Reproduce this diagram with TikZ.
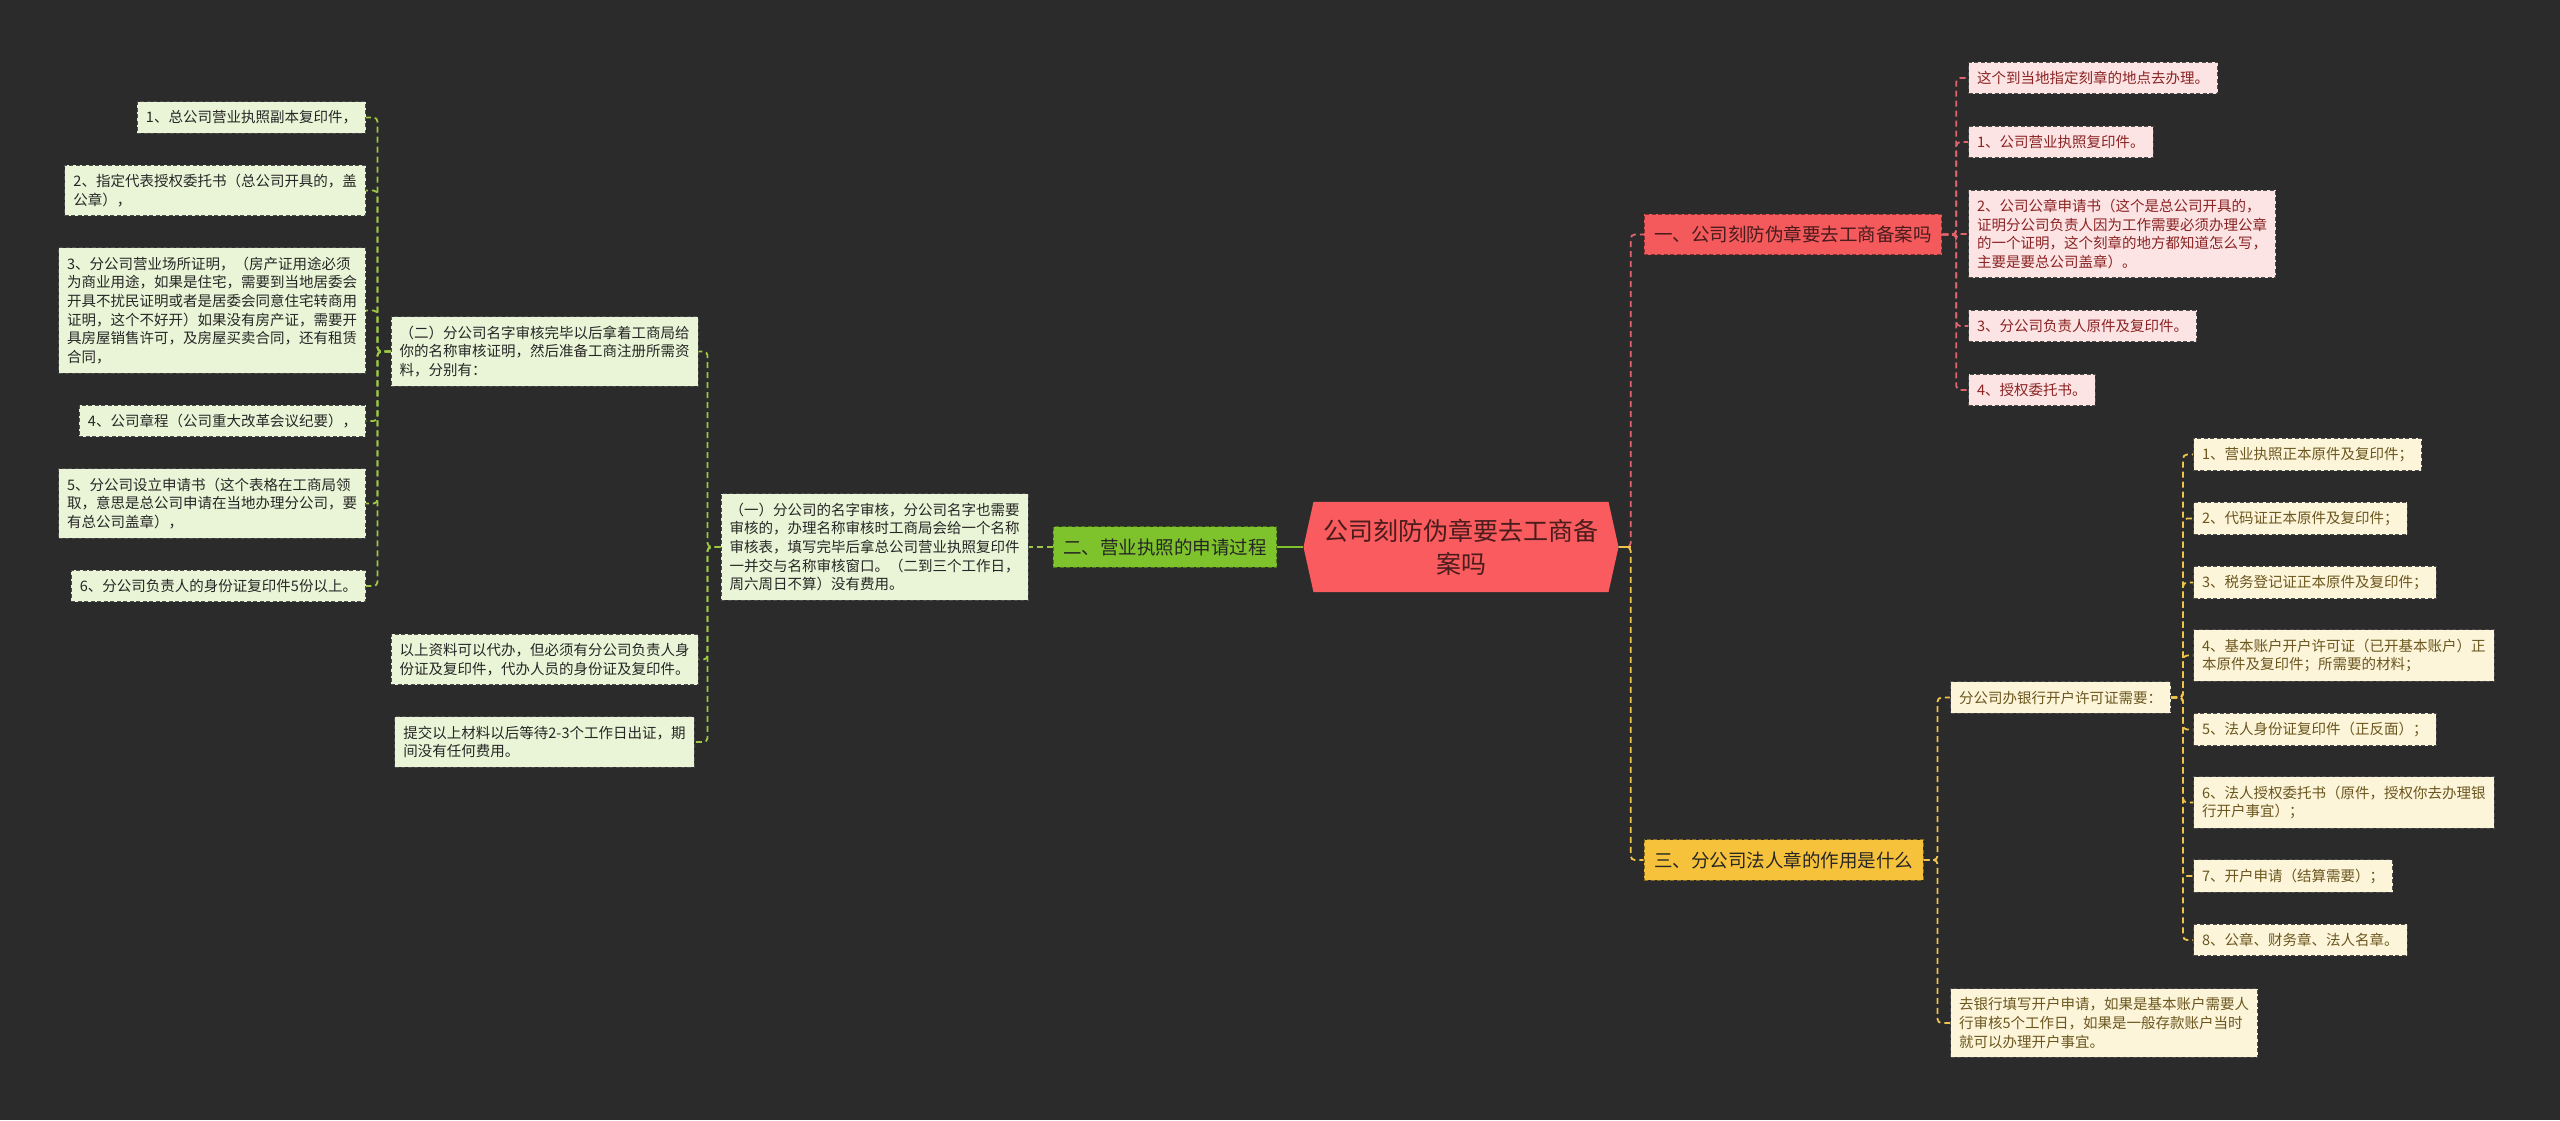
\documentclass[tikz,border=0pt]{standalone}
\usepackage{fontspec}
\setmainfont{Noto Sans CJK SC}
\usepackage{xcolor}
\usepackage{tikz}
\usetikzlibrary{positioning,shapes.symbols}
\definecolor{bgc}{HTML}{2B2B2B}
\definecolor{rootred}{HTML}{F95B5E}
\definecolor{roottxt}{HTML}{4A1C1C}
\definecolor{gmain}{HTML}{7EC22C}
\definecolor{gfill}{HTML}{EAF5D7}
\definecolor{glinec}{HTML}{9EC844}
\definecolor{rmain}{HTML}{F45A5C}
\definecolor{rfill}{HTML}{FDE4E4}
\definecolor{rtxt}{HTML}{8A2323}
\definecolor{rlinec}{HTML}{E0646E}
\definecolor{ymain}{HTML}{F7C23B}
\definecolor{yfill}{HTML}{FDF5DA}
\definecolor{ytxt}{HTML}{6B561E}
\definecolor{ylinec}{HTML}{EFC44A}
\tikzset{
  leaf/.style={rectangle, draw=black!70, dash pattern=on 4pt off 2.5pt, line width=1pt,
    align=left, font=\fontsize{14.5}{18.7}\selectfont, inner xsep=8.5pt, inner ysep=9pt},
  gleaf/.style={leaf, fill=gfill, text=black!85},
  rleaf/.style={leaf, fill=rfill, text=rtxt},
  yleaf/.style={leaf, fill=yfill, text=ytxt},
  branch/.style={rectangle, dash pattern=on 4pt off 2.5pt, line width=1pt,
    font=\fontsize{18.5}{22}\selectfont, inner xsep=10pt, inner ysep=11.5pt},
  root/.style={signal, signal to=west and east, signal pointer angle=155,
    fill=rootred, text=roottxt, align=center, font=\fontsize{25}{33}\selectfont,
    inner xsep=10pt, inner ysep=17pt},
  link/.style={line width=1.8pt, dash pattern=on 6pt off 4pt, rounded corners=4pt},
  gline/.style={link, draw=glinec},
  rline/.style={link, draw=rlinec},
  yline/.style={link, draw=ylinec},
}

\begin{document}
\begin{tikzpicture}[x=1pt, y=-1pt]
\useasboundingbox (0,0) rectangle (2560,1120);
\fill[bgc] (0,0) rectangle (2560,1120);
% Centre
\node[root] (root) at (1461,547) {公司刻防伪章要去工商备\\案吗};
% Left branch
\node[branch, fill=gmain, draw=gmain!60!black, text=black!85] (proc) at (1165,547) {二、营业执照的申请过程};
\node[gleaf] (name) at (874.5,547) {（一）分公司的名字审核，分公司名字也需要\\审核的，办理名称审核时工商局会给一个名称\\审核表，填写完毕后拿总公司营业执照复印件\\一并交与名称审核窗口。（二到三个工作日，\\周六周日不算）没有费用。};
\node[gleaf] (docs)  at (544.5,351.5) {（二）分公司名字审核完毕以后拿着工商局给\\你的名称审核证明，然后准备工商注册所需资\\料，分别有：};
\node[gleaf] (agent) at (544.5,659.5) {以上资料可以代办，但必须有分公司负责人身\\份证及复印件，代办人员的身份证及复印件。};
\node[gleaf] (wait)  at (544.5,742) {提交以上材料以后等待2-3个工作日出证，期\\间没有任何费用。};
\node[gleaf, anchor=east] (d1) at (366,117.5) {1、总公司营业执照副本复印件，};
\node[gleaf, anchor=east] (d2) at (366,190.5) {2、指定代表授权委托书（总公司开具的，盖\\公章），};
\node[gleaf, anchor=east] (d3) at (366,310.5) {3、分公司营业场所证明，（房产证用途必须\\为商业用途，如果是住宅，需要到当地居委会\\开具不扰民证明或者是居委会同意住宅转商用\\证明，这个不好开）如果没有房产证，需要开\\具房屋销售许可，及房屋买卖合同，还有租赁\\合同，};
\node[gleaf, anchor=east] (d4) at (366,421) {4、公司章程（公司重大改革会议纪要），};
\node[gleaf, anchor=east] (d5) at (366,503.5) {5、分公司设立申请书（这个表格在工商局领\\取，意思是总公司申请在当地办理分公司，要\\有总公司盖章），};
\node[gleaf, anchor=east] (d6) at (366,586) {6、分公司负责人的身份证复印件5份以上。};
% Right branch, seal
\node[branch, fill=rmain, draw=rmain!55!black, text=rmain!30!black] (seal) at (1793,234.5) {一、公司刻防伪章要去工商备案吗};
\node[rleaf, anchor=west] (s0) at (1968,78)  {这个到当地指定刻章的地点去办理。};
\node[rleaf, anchor=west] (s1) at (1968,142) {1、公司营业执照复印件。};
\node[rleaf, anchor=west] (s2) at (1968,234) {2、公司公章申请书（这个是总公司开具的，\\证明分公司负责人因为工作需要必须办理公章\\的一个证明，这个刻章的地方都知道怎么写，\\主要是要总公司盖章）。};
\node[rleaf, anchor=west] (s3) at (1968,326) {3、分公司负责人原件及复印件。};
\node[rleaf, anchor=west] (s4) at (1968,390) {4、授权委托书。};
% Right branch, legal seal
\node[branch, fill=ymain, draw=ymain!55!black, text=black!85] (legal) at (1783.5,860) {三、分公司法人章的作用是什么};
\node[yleaf, anchor=west] (bank)  at (1950,697.5) {分公司办银行开户许可证需要：};
\node[yleaf, anchor=west] (visit) at (1950,1023) {去银行填写开户申请，如果是基本账户需要人\\行审核5个工作日，如果是一般存款账户当时\\就可以办理开户事宜。};
\node[yleaf, anchor=west] (k1) at (2193,454.5) {1、营业执照正本原件及复印件；};
\node[yleaf, anchor=west] (k2) at (2193,518.5) {2、代码证正本原件及复印件；};
\node[yleaf, anchor=west] (k3) at (2193,582.5) {3、税务登记证正本原件及复印件；};
\node[yleaf, anchor=west] (k4) at (2193,655.5) {4、基本账户开户许可证（已开基本账户）正\\本原件及复印件；所需要的材料；};
\node[yleaf, anchor=west] (k5) at (2193,729.5) {5、法人身份证复印件（正反面）；};
\node[yleaf, anchor=west] (k6) at (2193,802.5) {6、法人授权委托书（原件，授权你去办理银\\行开户事宜）；};
\node[yleaf, anchor=west] (k7) at (2193,876) {7、开户申请（结算需要）；};
\node[yleaf, anchor=west] (k8) at (2193,940) {8、公章、财务章、法人名章。};
% Links, left
\draw[line width=1.8pt, gmain] (root.west) -- (proc.east);
\draw[gline] (proc.west) -- (name.east);
\foreach \n in {docs,agent,wait}
  \draw[gline] (name.west) -- ++(-13,0) |- (\n.east);
\foreach \i in {1,...,6}
  \draw[gline] (docs.west) -- ++(-13,0) |- (d\i.east);
% Links, right
\draw[rline] (root.east) -- ++(12,0) |- (seal.west);
\draw[yline] (root.east) -- ++(12,0) |- (legal.west);
\draw[line width=1.8pt, ylinec] (root.east) -- ++(12,0);
\foreach \i in {0,...,4}
  \draw[rline] (seal.east) -- ++(14,0) |- (s\i.west);
\foreach \n in {bank,visit}
  \draw[yline] (legal.east) -- ++(14,0) |- (\n.west);
\foreach \i in {1,...,8}
  \draw[yline] (bank.east) -- ++(12,0) |- (k\i.west);
\end{tikzpicture}
\end{document}
